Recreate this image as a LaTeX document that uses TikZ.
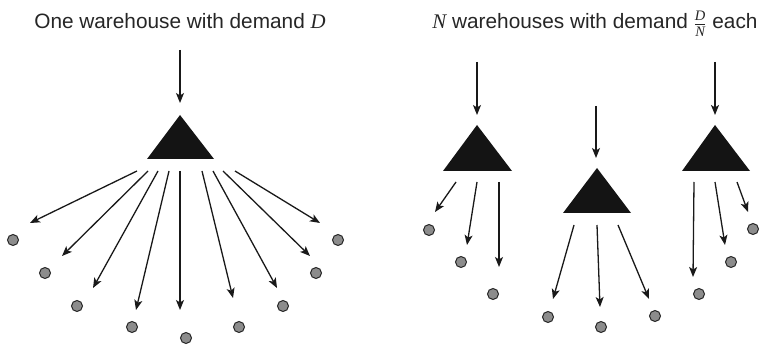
\documentclass[tikz,border=0pt]{standalone}
\usepackage{fontspec}
\setmainfont{Liberation Sans}
\newfontfamily\serif{Liberation Serif}
\usetikzlibrary{arrows.meta}
\begin{document}
\begin{tikzpicture}[x=1pt,y=-1pt,
  arr/.style={-{Stealth[length=10pt,width=8pt,inset=2.5pt]}, line width=1.3pt, draw=black!90},
  cust/.style={circle, draw=black!85, line width=1pt, fill=black!45, minimum size=11pt, inner sep=0pt},
  wh/.style={fill=black!92},
  title/.style={font=\fontsize{20.8}{24}\selectfont, text=black!85, inner sep=0pt}]
\useasboundingbox (0,0) rectangle (762,347);

% titles
\node[title, anchor=base] (t1) at (180,29) {One warehouse with demand {\serif\itshape D}};
\node[title, anchor=base] (t2) at (595,29) {{\serif\itshape N} warehouses with demand $\frac{\hbox{\fontsize{14.5}{14}\serif\itshape D}}{\hbox{\fontsize{14.5}{14}\serif\itshape N}}$ each};

% ---------- left: one warehouse ----------
\coordinate (Lin) at (180,50);
\coordinate (La) at (180,115);
\coordinate (Lb) at (147,159);
\coordinate (Lc) at (214,159);
\fill[wh] (La) -- (Lb) -- (Lc) -- cycle;
\coordinate (Ltop) at (180,103);
\draw[arr] (Lin) -- (Ltop);

\foreach \n/\sx/\ex/\ey in {1/137/30/223, 2/148/62/256, 3/158/93/288, 4/169/136/310, 5/180/180/310,
                             6/202/233/298, 7/213/277/288, 8/223/310/256, 9/235/320/223} {
  \coordinate (ls\n) at (\sx,171);
  \coordinate (le\n) at (\ex,\ey);
  \draw[arr] (ls\n) -- (le\n);
}
\foreach \n/\cx/\cy in {1/13/240, 2/45/273, 3/77/306, 4/132/327, 5/186/338,
                        6/239/327, 7/283/306, 8/316/273, 9/338/240} {
  \node[cust] (lc\n) at (\cx,\cy) {};
}

% ---------- right: N warehouses ----------
% warehouse A
\coordinate (Ain) at (477,62);
\coordinate (Atop) at (477,115);
\coordinate (Aa) at (477,125);
\coordinate (Ab) at (443,171);
\coordinate (Ac) at (512,171);
\fill[wh] (Aa) -- (Ab) -- (Ac) -- cycle;
\draw[arr] (Ain) -- (Atop);
% warehouse B
\coordinate (Bin) at (596,106);
\coordinate (Btop) at (596,158);
\coordinate (Ba) at (597,168);
\coordinate (Bb) at (563,213);
\coordinate (Bc) at (631,213);
\fill[wh] (Ba) -- (Bb) -- (Bc) -- cycle;
\draw[arr] (Bin) -- (Btop);
% warehouse C
\coordinate (Cin) at (715,62);
\coordinate (Ctop) at (715,115);
\coordinate (Ca) at (715,125);
\coordinate (Cb) at (682,171);
\coordinate (Cc) at (750,171);
\fill[wh] (Ca) -- (Cb) -- (Cc) -- cycle;
\draw[arr] (Cin) -- (Ctop);

\foreach \n/\sx/\sy/\ex/\ey in {1/456/182/435/212, 2/477/182/467/245, 3/499/182/499/267,
                                 4/574/225/553/299, 5/597/225/600/307, 6/618/225/649/299,
                                 7/694/182/693/277, 8/715/182/725/245, 9/737/182/748/212} {
  \coordinate (rs\n) at (\sx,\sy);
  \coordinate (re\n) at (\ex,\ey);
  \draw[arr] (rs\n) -- (re\n);
}
\foreach \n/\cx/\cy in {1/429/230, 2/461/262, 3/493/294, 4/548/317, 5/601/327,
                        6/655/316, 7/699/294, 8/731/262, 9/753/229} {
  \node[cust] (rc\n) at (\cx,\cy) {};
}
\end{tikzpicture}
\end{document}
